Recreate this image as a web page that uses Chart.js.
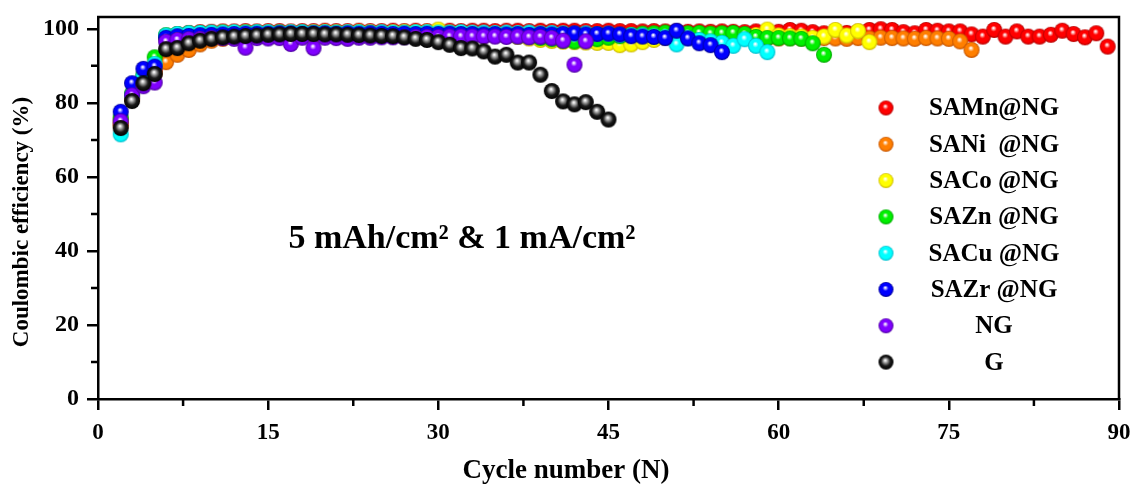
<!DOCTYPE html>
<html>
<head>
<meta charset="utf-8">
<script src="https://cdn.jsdelivr.net/npm/chart.js@4.4.0/dist/chart.umd.min.js"></script>
<style>
  html, body { margin: 0; padding: 0; background: #fff; }
  #ce-chart { display: block; }
</style>
</head>
<body>
<canvas id="ce-chart" width="1134" height="484"></canvas>
<script>
// every series starts at cycle 2
const firstCycle = 2

const seriesLabels = ["SAMn@NG", "SANi  @NG", "SACo @NG", "SAZn @NG", "SACu @NG", "SAZr @NG", "NG", "G"]

const samnValues = [
    74.5, 81.5, 86.0, 89.0, 97.8,
    98.5, 98.9, 99.1, 99.2, 99.3, 99.3, 99.4, 99.3, 99.4, 99.4,
    99.3, 99.4, 99.4, 99.5, 99.4, 99.4, 99.5, 99.4, 99.4, 99.5,
    99.4, 99.5, 99.4, 99.5, 99.5, 99.4, 99.5, 99.5, 99.4, 99.5,
    99.5, 99.4, 99.5, 99.4, 99.5, 99.5, 99.4, 99.4, 99.5, 99.4,
    99.4, 99.3, 99.4, 99.3, 99.4, 99.2, 99.3, 99.2, 99.3, 99.2,
    99.1, 99.3, 99.0, 99.2, 99.7, 99.5, 99.1, 98.8, 99.2, 98.9,
    99.2, 99.7, 99.9, 99.7, 99.1, 98.8, 99.7, 99.5, 99.3, 99.3,
    98.5, 97.9, 99.7, 97.9, 99.3, 97.9, 97.9, 98.4, 99.5, 98.6,
    97.7, 98.8, 95.2,
]

const saniValues = [
    74.0, 81.0, 85.5, 88.0, 91.0,
    93.0, 94.3, 95.8, 96.8, 97.3, 97.6, 97.8, 97.9, 98.0, 98.0,
    97.3, 98.1, 98.2, 98.1, 98.2, 98.2, 98.3, 98.2, 98.3, 98.2,
    98.3, 98.2, 98.3, 98.3, 98.2, 98.3, 98.2, 98.1, 98.2, 98.1,
    98.0, 98.1, 98.0, 97.9, 98.0, 97.9, 97.8, 97.9, 97.8, 97.7,
    97.8, 97.7, 97.8, 97.6, 97.7, 97.6, 97.7, 97.6, 97.5, 97.6,
    97.5, 97.6, 97.5, 97.4, 97.5, 97.4, 97.3, 97.5, 97.4, 97.3,
    97.5, 97.4, 97.6, 97.5, 97.4, 97.3, 97.5, 97.4, 97.3, 96.6,
    94.3,
]

const sacoValues = [
    75.5, 82.0, 86.5, 90.0, 98.0,
    98.4, 98.6, 98.8, 98.9, 99.0, 99.0, 99.1, 99.0, 99.1, 99.0,
    99.1, 99.0, 99.1, 99.2, 99.1, 99.1, 99.2, 99.1, 99.0, 99.1,
    99.2, 99.1, 99.2, 99.8, 99.0, 98.9, 98.7, 98.6, 98.4, 98.1,
    97.8, 97.4, 97.0, 96.7, 96.5, 96.4, 96.3, 96.2, 96.2, 95.6,
    95.8, 96.4, 97.0, 97.6, 98.0, 98.2, 98.3, 98.1, 98.0, 97.8,
    97.9, 98.3, 99.8, 98.2, 98.0, 97.9, 97.5, 97.9, 99.7, 98.2,
    99.4, 96.4,
]

const saznValues = [
    76.0, 82.5, 87.5, 92.3, 98.3,
    98.6, 98.8, 98.9, 98.9, 99.0, 98.9, 99.0, 99.0, 98.9, 99.0,
    98.9, 99.0, 98.9, 98.8, 98.9, 98.8, 98.9, 98.8, 98.8, 98.7,
    98.8, 98.7, 98.8, 98.6, 98.7, 98.5, 98.6, 98.4, 98.3, 98.2,
    98.0, 97.8, 97.5, 97.2, 96.8, 96.6, 96.9, 97.2, 97.6, 98.0,
    98.4, 98.7, 98.8, 99.0, 98.9, 98.8, 98.9, 98.7, 98.8, 98.9,
    98.6, 97.8, 97.5, 97.5, 97.4, 97.3, 96.1,
    93.0,
]

const sacuValues = [
    71.5, 82.0, 87.0, 90.5, 98.2,
    98.6, 98.8, 98.9, 99.0, 99.0, 99.1, 99.0, 99.1, 99.1, 99.0,
    99.1, 99.1, 99.0, 99.1, 99.0, 99.1, 99.1, 99.0, 99.1, 99.0,
    99.0, 99.1, 99.1, 99.0, 99.0, 99.1, 99.0, 99.0, 98.9, 99.0,
    98.9, 99.0, 98.8, 98.9, 98.8, 98.7, 98.8, 98.6, 98.7, 98.4,
    98.3, 98.2, 98.0, 97.8, 95.8, 97.5, 97.0, 96.6, 96.2, 95.4,
    97.2, 95.4, 93.7,
]

const sazrValues = [
    77.6, 85.3, 89.2, 89.8, 97.6,
    98.0, 98.1, 98.3, 98.4, 98.5, 98.6, 98.7, 98.7, 98.7, 98.8,
    98.8, 98.7, 98.8, 98.8, 98.7, 98.8, 98.7, 98.8, 98.7, 98.6,
    98.7, 98.6, 98.7, 98.6, 98.7, 98.6, 98.6, 98.5, 98.6, 98.5,
    98.6, 98.4, 98.6, 98.5, 98.6, 98.8, 98.5, 98.6, 98.7, 98.5,
    98.0, 97.9, 97.8, 97.5, 99.5, 97.4, 96.1, 95.6, 93.7,
]

const ngValues = [
    75.0, 82.0, 84.5, 85.5, 96.5,
    97.0, 97.2, 97.3, 97.5, 97.5, 97.3, 94.9, 97.5, 97.4, 97.5,
    95.9, 97.6, 94.8, 97.6, 97.5, 97.3, 97.6, 97.6, 97.7, 97.7,
    97.7, 97.8, 97.8, 97.8, 97.9, 97.9, 97.9, 97.9, 97.9, 97.8,
    97.9, 97.7, 97.8, 97.5, 96.8, 90.3, 96.6,
]

const gValues = [
    73.2, 80.5, 85.3, 87.8, 94.5,
    94.8, 96.1, 96.8, 97.3, 97.7, 97.9, 98.1, 98.2, 98.4, 98.5,
    98.6, 98.6, 98.6, 98.5, 98.5, 98.4, 98.3, 98.2, 98.1, 98.0,
    97.7, 97.3, 97.0, 96.4, 95.7, 94.8, 94.7, 93.9, 92.5, 93.0,
    90.9, 90.9, 87.6, 83.2, 80.4, 79.6, 80.2, 77.6, 75.5,
]

const seriesValues = [samnValues, saniValues, sacoValues, saznValues, sacuValues, sazrValues, ngValues, gValues]

// body colour and rim colour of each ball
const ballColors = ["#ff0000", "#ff7f00", "#ffff00", "#00f000", "#00ffff", "#0000ff", "#8000ff", "#000000"]
const rimColors = ["#b00000", "#c05000", "#c8b400", "#00a000", "#00b8c8", "#000090", "#4a0099", "#000000"]

const xTicksMinor = [7.5, 22.5, 37.5, 52.5, 67.5, 82.5]
const yTicksMinor = [10, 30, 50, 70, 90]

const xTitle = "Cycle number (N)"
const yTitle = "Coulombic efficiency (%)"
const noteText = "5 mAh/cm² & 1 mA/cm²"

const serif = "'Liberation Serif', 'Times New Roman', serif"

// shaded sphere sprite used as point style
function makeBall(color, rim, r) {
    const canvas = document.createElement("canvas")
    const size = Math.ceil(r * 2 + 2)
    canvas.width = size
    canvas.height = size
    const g = canvas.getContext("2d")
    const c = size / 2
    const grad = g.createRadialGradient(c - r * 0.1, c - r * 0.25, r * 0.05, c, c, r)
    if (color === "#000000") {
        grad.addColorStop(0, "#ffffff")
        grad.addColorStop(0.3, "#8a8a8a")
        grad.addColorStop(0.6, "#1a1a1a")
        grad.addColorStop(1, "#000000")
    } else {
        grad.addColorStop(0, "#ffffff")
        grad.addColorStop(0.35, color)
        grad.addColorStop(0.75, color)
        grad.addColorStop(1, rim)
    }
    g.fillStyle = grad
    g.beginPath()
    g.arc(c, c, r, 0, Math.PI * 2)
    g.fill()
    return canvas
}

const balls = ballColors.map((color, i) => makeBall(color, rimColors[i], 8))

// lower order is drawn on top: G on top, SAMn@NG at the bottom
const datasets = seriesLabels.map((label, i) => ({
    label,
    data: seriesValues[i].map((v, k) => ({ x: firstCycle + k, y: v })),
    pointStyle: balls[i],
    pointRadius: 8,
    showLine: false,
    clip: false,
    order: seriesLabels.length - i,
}))

const frameAndMinorTicks = {
    id: "frameAndMinorTicks",
    afterDraw(chart) {
        const { ctx, chartArea: a, scales } = chart
        ctx.save()
        ctx.strokeStyle = "#000"
        ctx.lineWidth = 2.5
        ctx.beginPath()
        ctx.moveTo(a.left - 1, a.top)
        ctx.lineTo(a.right, a.top)
        ctx.lineTo(a.right, a.bottom + 1)
        ctx.stroke()

        ctx.beginPath()
        for (const v of xTicksMinor) {
            const px = scales.x.getPixelForValue(v)
            ctx.moveTo(px, a.bottom)
            ctx.lineTo(px, a.bottom + 7)
        }
        for (const v of yTicksMinor) {
            const py = scales.y.getPixelForValue(v)
            ctx.moveTo(a.left, py)
            ctx.lineTo(a.left - 7, py)
        }
        ctx.stroke()
        ctx.restore()
    },
}

const legendAndText = {
    id: "legendAndText",
    afterDraw(chart) {
        const { ctx, chartArea: a } = chart
        ctx.save()
        ctx.fillStyle = "#000"
        ctx.textBaseline = "middle"
        ctx.textAlign = "center"

        const markerX = a.right - 233
        const textX = a.right - 125
        const rowTop = a.top + 91
        const rowStep = 36.3
        ctx.font = "bold 25px " + serif
        seriesLabels.forEach((label, i) => {
            const y = rowTop + i * rowStep
            const img = makeBall(ballColors[i], rimColors[i], 7.5)
            ctx.drawImage(img, markerX - img.width / 2, y - img.height / 2)
            ctx.fillText(label, textX, y + 1)
        })

        ctx.font = "bold 34px " + serif
        ctx.fillText(noteText, a.left + 364, a.top + 222)

        // axis titles
        ctx.font = "bold 27px " + serif
        ctx.fillText(xTitle, a.left + 468, 471)

        ctx.font = "bold 23px " + serif
        ctx.translate(22, a.top + 205)
        ctx.rotate(-Math.PI / 2)
        ctx.fillText(yTitle, 0, 0)
        ctx.restore()
    },
}

new Chart(document.getElementById("ce-chart"), {
    type: "scatter",
    data: { datasets },
    options: {
        responsive: false,
        animation: false,
        devicePixelRatio: 1,
        layout: { autoPadding: false, padding: { top: 17, right: 15, left: 0, bottom: 0 } },
        plugins: { legend: { display: false }, tooltip: { enabled: false } },
        elements: { point: { hoverRadius: 8 } },
        scales: {
            x: {
                type: "linear",
                min: 0,
                max: 90,
                // fixed box, no extra room for the end labels
                afterFit: (scale) => {
                    scale.height = 85
                    scale.paddingLeft = 0
                    scale.paddingRight = 0
                },
                ticks: { stepSize: 15, padding: 9, color: "#000", font: { family: serif, size: 23, weight: "bold" } },
                grid: { drawOnChartArea: false, tickLength: 11, lineWidth: 2.5, color: "#000" },
                border: { color: "#000", width: 2.5 },
            },
            y: {
                min: 0,
                max: 103.2,
                afterFit: (scale) => {
                    scale.width = 98
                    scale.paddingTop = 0
                    scale.paddingBottom = 0
                },
                ticks: { stepSize: 20, includeBounds: false, padding: 8, color: "#000", font: { family: serif, size: 24, weight: "bold" } },
                grid: { drawOnChartArea: false, tickLength: 11, lineWidth: 2.5, color: "#000" },
                border: { color: "#000", width: 2.5 },
            },
        },
    },
    plugins: [frameAndMinorTicks, legendAndText],
})
</script>
</body>
</html>
